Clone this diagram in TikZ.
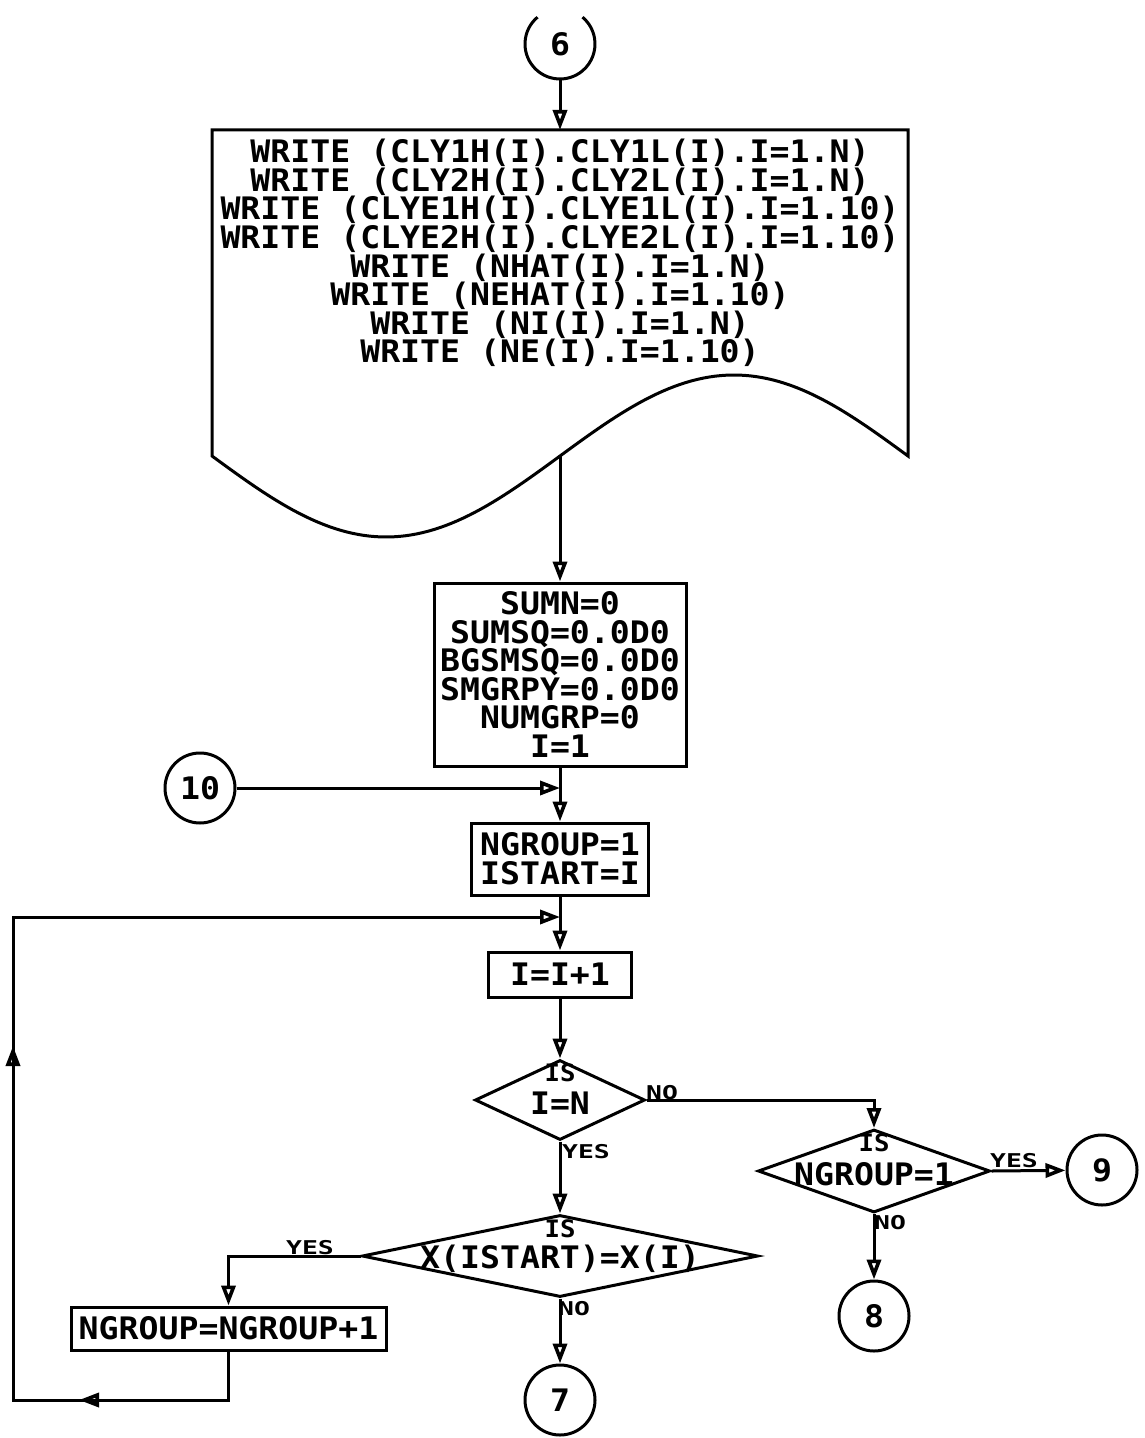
\documentclass[tikz,border=0pt]{standalone}
\usepackage{fontspec}
\newfontfamily\plotfont{DejaVu Sans Mono}[FakeStretch=1.07]
\newcommand\tightlines{\lineskiplimit=-30pt\relax\lineskip=0pt\relax}
\usetikzlibrary{arrows.meta,shapes.geometric,decorations.markings}
\begin{document}
\begin{tikzpicture}[x=0.5pt,y=-0.5pt, line width=1.5pt,
  >={Triangle[open,length=10pt,width=7pt,line width=1.8pt]},
  txt/.style={font=\plotfont\bfseries\fontsize{15.5}{14.3}\selectfont\tightlines, align=center, inner sep=0pt},
  box/.style={draw, rectangle, txt},
  conn/.style={draw, circle, minimum size=35pt, txt},
  dia/.style={draw, diamond, inner sep=0pt},
  lab/.style={font=\plotfont\bfseries\fontsize{9.5}{10}\selectfont, inner sep=0pt},
  isl/.style={font=\plotfont\bfseries\fontsize{12}{12}\selectfont, inner sep=0pt}]
\useasboundingbox (0,0) rectangle (1144,1438);

% connector 6 (top partly cut)
\node[conn, draw=none] (c6) at (560,44) {6};
\draw[shift={(c6.center)}, x=1pt, y=1pt] (130:17.5) arc[start angle=130, end angle=410, radius=17.5];

% document shape
\draw (212,130) -- (908,130) -- (908,456)
  -- plot[domain=908:212, samples=120] (\x,{456+81*sin(0.517241*(\x-212))}) -- cycle;
\coordinate (docT) at (560,130);
\coordinate (docB) at (560,456);
\node[txt] (doctxt) at (560,253) {WRITE (CLY1H(I).CLY1L(I).I=1.N)\\WRITE (CLY2H(I).CLY2L(I).I=1.N)\\WRITE (CLYE1H(I).CLYE1L(I).I=1.10)\\WRITE (CLYE2H(I).CLYE2L(I).I=1.10)\\WRITE (NHAT(I).I=1.N)\\WRITE (NEHAT(I).I=1.10)\\WRITE (NI(I).I=1.N)\\WRITE (NE(I).I=1.10)};

% boxes
\node[box, minimum width=126pt, minimum height=91.5pt] (b1) at (560,674.5) {SUMN=0\\SUMSQ=0.0D0\\BGSMSQ=0.0D0\\SMGRPY=0.0D0\\NUMGRP=0\\I=1};
\node[box, minimum width=88.5pt, minimum height=36pt] (b2) at (560,859) {NGROUP=1\\ISTART=I};
\node[box, minimum width=71.5pt, minimum height=22.5pt] (b3) at (560,974.5) {I=I+1};
\node[box, minimum width=157.5pt, minimum height=21.5pt] (b4) at (228.5,1328.5) {NGROUP=NGROUP+1};

% connectors (circles)
\node[conn] (c10) at (200,788) {10};
\node[conn] (c9) at (1102,1170) {9};
\node[conn] (c8) at (874,1316) {8};
\node[conn] (c7) at (560,1400) {7};

% decisions
\node[dia, minimum width=85pt, minimum height=40pt] (d1) at (560,1100) {};
\node[isl] (d1is) at (560,1073) {IS};
\node[txt] (d1t) at (560,1103) {I=N};
\node[dia, minimum width=116pt, minimum height=41.5pt] (d2) at (874,1171) {};
\node[isl] (d2is) at (874,1143) {IS};
\node[txt] (d2t) at (874,1174) {NGROUP=1};
\node[dia, minimum width=198pt, minimum height=41pt] (d3) at (560,1256) {};
\node[isl] (d3is) at (560,1229) {IS};
\node[txt] (d3t) at (560,1259) {X(ISTART)=X(I)};

% labels
\node[lab] (l1) at (662,1093) {\scalebox{1.3}[1]{NO}};
\node[lab] (l2) at (586,1152) {\scalebox{1.3}[1]{YES}};
\node[lab] (l3) at (1014,1161) {\scalebox{1.3}[1]{YES}};
\node[lab] (l4) at (890,1223) {\scalebox{1.3}[1]{NO}};
\node[lab] (l5) at (310,1248) {\scalebox{1.3}[1]{YES}};
\node[lab] (l6) at (574,1309) {\scalebox{1.3}[1]{NO}};

% flow lines
\draw[->] (c6) -- (docT);
\draw[->] (docB) -- (b1);
\draw[->] (b1) -- (b2);
\draw[->] (c10) -- (c10 -| b1.south);
\draw[->] (b2) -- (b3);
\draw[->] (b3) -- (d1);
\draw[->] (d1.east) -| (d2.north);
\draw[->] (d1.south) -- (d3.north);
\draw[->] (d2.east) -- (c9);
\draw[->] (d2.south) -- (c8);
\draw[->] (d3.south) -- (c7);
\draw[->] (d3.west) -| (b4.north);
\coordinate (lp1) at (13,1400);
\coordinate (lp2) at (13,917);
\draw[->, postaction=decorate, decoration={markings,
    mark=at position 99pt with {\arrow{>}},
    mark=at position 309pt with {\arrow{>}}}]
  (b4.south) |- (lp1) -- (lp2) -- (lp2 -| b2.south);
\end{tikzpicture}
\end{document}
